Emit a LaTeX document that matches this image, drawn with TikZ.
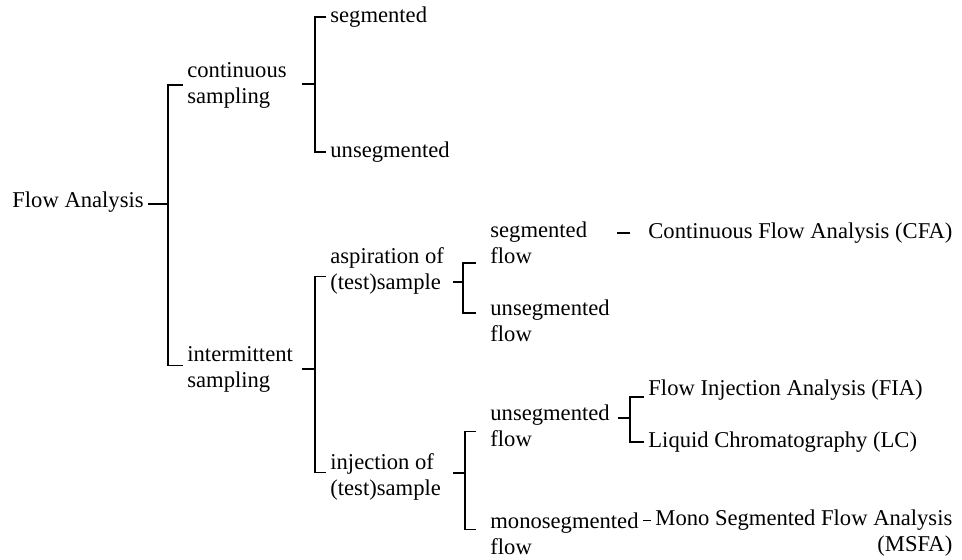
\documentclass[tikz,border=0pt]{standalone}
\usepackage{fontspec}
\setmainfont{Liberation Serif}
\usetikzlibrary{arrows,shapes}
\tikzstyle{term}=[anchor=west,align=left,inner sep=2pt,font=\fontsize{11.3}{13}\selectfont]
\tikzstyle{bracket}=[draw,line width=0.9pt,-]

\begin{document}
\begin{tikzpicture}[x=0.5pt,y=-0.5pt]
    \useasboundingbox (0,0) rectangle (962,560);
    % First we place the terms, column by column
    \foreach \pos/\name/\txt in {{(8,202)/fa/Flow Analysis},
        {(183,85)/cs/continuous\\sampling}, {(183,369.5)/is/intermittent\\sampling},
        {(326,17)/seg/segmented}, {(326,152)/unseg/unsegmented},
        {(326,270.5)/asp/aspiration of\\(test)sample}, {(326,476.5)/inj/injection of\\(test)sample},
        {(486,243)/sf/segmented\\flow}, {(486,321)/uf/unsegmented\\flow},
        {(486,425.5)/uf2/unsegmented\\flow}, {(486,533.5)/mf/monosegmented\\flow},
        {(644,233)/cfa/Continuous Flow Analysis (CFA)},
        {(644,390)/fia/Flow Injection Analysis (FIA)}, {(644,442)/lc/Liquid Chromatography (LC)}}
        \node[term] (\name) at \pos {\txt};
    \node[term,align=right] (msfa) at (651,533.5) {Mono Segmented Flow Analysis\\(MSFA)};
    % Junctions where a term meets its bracket
    \coordinate (j1) at (168,204);
    \coordinate (j2) at (315,84);
    \coordinate (j3) at (315,369);
    \coordinate (j4) at (463,282);
    \coordinate (j5) at (465,473);
    \coordinate (j6) at (630,418);
    % Then the brackets
    \path[bracket] (cs.west) -| (j1) |- ([yshift=2pt]is.west);
    \path[bracket] (j1) -- ++(-20,0);
    \path[bracket] (seg.west) -| (j2) |- (unseg.west);
    \path[bracket] (j2) -- ++(-13,0);
    \path[bracket] ([yshift=-3pt]asp.west) -| (j3) |- ([yshift=2pt]inj.west);
    \path[bracket] (j3) -- ++(-13,0);
    \path[bracket,shorten <=5pt,shorten >=5pt] ([yshift=-10pt]sf.west) -| (j4) |- ([yshift=4pt]uf.west);
    \path[bracket] (j4) -- ++(-10,0);
    \path[bracket,shorten <=5pt,shorten >=5pt] ([yshift=-3pt]uf2.west) -| (j5) |- ([yshift=2pt]mf.west);
    \path[bracket] (j5) -- ++(-12,0);
    \path[bracket] ([yshift=-3.5pt]fia.west) -| (j6) |- (lc.west);
    \path[bracket] (j6) -- ++(-12,0);
    % Dashes to the named methods
    \path[bracket,shorten <=13pt,shorten >=7pt] (cfa.west -| sf.east) -- (cfa.west);
    \path[bracket] ([yshift=6.5pt]mf.east) -- ([yshift=6.5pt]msfa.west);
\end{tikzpicture}
\end{document}
